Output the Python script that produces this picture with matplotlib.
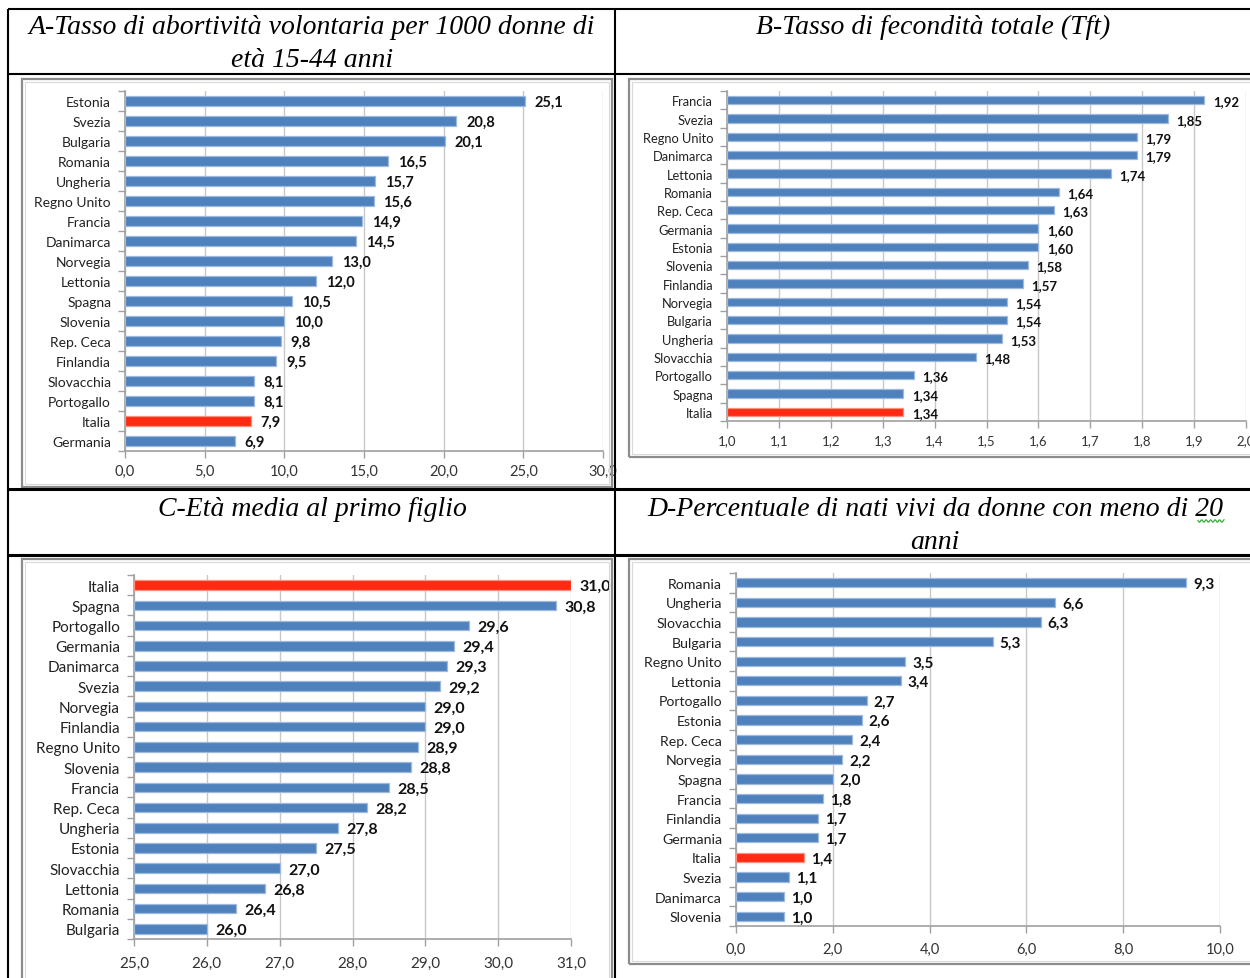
import matplotlib
matplotlib.use("Agg")
import matplotlib.pyplot as plt
from matplotlib.lines import Line2D
from matplotlib.patches import Rectangle
import numpy as np

# ---------------- data ----------------
a_countries = ["Estonia", "Svezia", "Bulgaria", "Romania", "Ungheria", "Regno Unito", "Francia",
               "Danimarca", "Norvegia", "Lettonia", "Spagna", "Slovenia", "Rep. Ceca", "Finlandia",
               "Slovacchia", "Portogallo", "Italia", "Germania"]
a_values = [25.1, 20.8, 20.1, 16.5, 15.7, 15.6, 14.9, 14.5, 13.0, 12.0, 10.5, 10.0, 9.8, 9.5,
            8.1, 8.1, 7.9, 6.9]

b_countries = ["Francia", "Svezia", "Regno Unito", "Danimarca", "Lettonia", "Romania", "Rep. Ceca",
               "Germania", "Estonia", "Slovenia", "Finlandia", "Norvegia", "Bulgaria", "Ungheria",
               "Slovacchia", "Portogallo", "Spagna", "Italia"]
b_values = [1.92, 1.85, 1.79, 1.79, 1.74, 1.64, 1.63, 1.60, 1.60, 1.58, 1.57, 1.54, 1.54, 1.53,
            1.48, 1.36, 1.34, 1.34]

c_countries = ["Italia", "Spagna", "Portogallo", "Germania", "Danimarca", "Svezia", "Norvegia",
               "Finlandia", "Regno Unito", "Slovenia", "Francia", "Rep. Ceca", "Ungheria", "Estonia",
               "Slovacchia", "Lettonia", "Romania", "Bulgaria"]
c_values = [31.0, 30.8, 29.6, 29.4, 29.3, 29.2, 29.0, 29.0, 28.9, 28.8, 28.5, 28.2, 27.8, 27.5,
            27.0, 26.8, 26.4, 26.0]

d_countries = ["Romania", "Ungheria", "Slovacchia", "Bulgaria", "Regno Unito", "Lettonia",
               "Portogallo", "Estonia", "Rep. Ceca", "Norvegia", "Spagna", "Francia", "Finlandia",
               "Germania", "Italia", "Svezia", "Danimarca", "Slovenia"]
d_values = [9.3, 6.6, 6.3, 5.3, 3.5, 3.4, 2.7, 2.6, 2.4, 2.2, 2.0, 1.8, 1.7, 1.7, 1.4, 1.1, 1.0, 1.0]

titles = ["A-Tasso di abortività volontaria per 1000 donne di\netà 15-44 anni",
          "B-Tasso di fecondità totale (Tft)",
          "C-Età media al primo figlio",
          "D-Percentuale di nati vivi da donne con meno di 20\nanni"]

a_ticks = [0, 5, 10, 15, 20, 25, 30]
b_ticks = [1.0, 1.1, 1.2, 1.3, 1.4, 1.5, 1.6, 1.7, 1.8, 1.9, 2.0]
c_ticks = [25, 26, 27, 28, 29, 30, 31]
d_ticks = [0, 2, 4, 6, 8, 10]

highlight = "Italia"

# ---------------- styling ----------------
W, H = 1250, 979
BLUE = "#4F81BD"
BLUE_EDGE = "#9DB9DD"
RED = "#FF2A12"
GRID = "#C8C8C8"
SPINE = "#A0A0A0"
LABEL_FONT = ["Lato", "DejaVu Sans"]
TITLE_FONT = ["Liberation Serif", "DejaVu Serif"]

fig = plt.figure(figsize=(W / 100, H / 100), dpi=100)
fig.patch.set_facecolor("white")


def px_axes(l, t, r, b):
    return fig.add_axes([l / W, 1 - b / H, (r - l) / W, (b - t) / H])


def fline(x0, y0, x1, y1, lw=1.5, color="black"):
    fig.add_artist(Line2D([x0 / W, x1 / W], [1 - y0 / H, 1 - y1 / H], lw=lw, color=color,
                          transform=fig.transFigure, solid_capstyle="butt"))


def frame(l, t, r, b):
    fig.add_artist(Rectangle((l / W, 1 - b / H), (r - l) / W, (b - t) / H, fill=False,
                             edgecolor="#8C8C8C", lw=1.6, transform=fig.transFigure))
    fig.add_artist(Rectangle(((l + 3) / W, 1 - (b - 3) / H), (r - l - 6) / W, (b - t - 6) / H,
                             fill=False, edgecolor="#DADADA", lw=0.8, transform=fig.transFigure))


def bar_panel(box, countries, values, xlim, ticks, dec_val, fs, xfs, vfs, off, xpad):
    ax = px_axes(*box)
    n = len(countries)
    y = np.arange(n)
    colors = [RED if c == highlight else BLUE for c in countries]
    edges = ["#FF9080" if c == highlight else BLUE_EDGE for c in countries]
    left = xlim[0]
    ax.barh(y, [v - left for v in values], left=left, height=0.47, color=colors,
            edgecolor=edges, linewidth=0.9, zorder=3)
    ax.set_ylim(n - 0.5, -0.5)
    ax.set_xlim(*xlim)
    ax.set_xticks(ticks)
    ax.set_xticklabels([f"{t:.1f}".replace(".", ",") for t in ticks],
                       fontsize=xfs, family=LABEL_FONT, color="#333333")
    ax.set_yticks(y)
    ax.set_yticklabels(countries, fontsize=fs, family=LABEL_FONT, color="#222222")
    ax.set_yticks(np.arange(n + 1) - 0.5, minor=True)
    ax.tick_params(axis="y", which="major", length=0, pad=10)
    ax.tick_params(axis="y", which="minor", length=5, color=SPINE, width=1)
    ax.tick_params(axis="x", which="major", length=5, color=SPINE, width=1, pad=xpad)
    ax.grid(axis="x", color=GRID, lw=1, zorder=0)
    ax.set_axisbelow(True)
    for s in ["top", "right"]:
        ax.spines[s].set_visible(False)
    for s in ["left", "bottom"]:
        ax.spines[s].set_color(SPINE)
        ax.spines[s].set_linewidth(1.2)
    for yi, v in zip(y, values):
        ax.annotate(f"{v:.{dec_val}f}".replace(".", ","), (v, yi), xytext=(off, -0.8),
                    textcoords="offset points", va="center", ha="left",
                    fontsize=vfs, fontweight="bold", family=LABEL_FONT, color="#111111",
                    zorder=5, annotation_clip=False)
    return ax


# ---------------- table frame ----------------
fline(8, 10, 1250, 10)
fline(8, 10, 8, 979)
fline(615, 10, 615, 979)
fline(8, 75, 1250, 75)
fline(8, 490, 1250, 490, lw=2.2)
fline(8, 556, 1250, 556, lw=2.2)

# inner chart frames
frame(22, 80, 612, 488)
frame(629, 80, 1256, 458)
frame(22, 560, 612, 990)
frame(629, 560, 1256, 965)

# ---------------- titles ----------------
tkw = dict(ha="center", va="center", fontsize=20, style="italic", family=TITLE_FONT,
           color="black", linespacing=1.42)
fig.text(312 / W, 1 - 44 / H, titles[0], **tkw)
fig.text(933 / W, 1 - 27 / H, titles[1], **tkw)
fig.text(312 / W, 1 - 509 / H, titles[2], **tkw)
fig.text(935 / W, 1 - 526 / H, titles[3], **tkw)
# spell-check wavy underline under "20"
xs = np.linspace(1198, 1224, 40)
fig.add_artist(Line2D(xs / W, 1 - (522 + 1.2 * np.sin(xs * 1.4)) / H, lw=0.9, color="#3BAA3B",
                      transform=fig.transFigure))

# ---------------- panels ----------------
bar_panel((125, 92, 603, 452), a_countries, a_values, (0, 30), a_ticks, 1, 10, 10.5, 10.5, 7, 4.5)
bar_panel((727, 92, 1246, 422), b_countries, b_values, (1.0, 2.0), b_ticks, 2, 9.3, 9.5, 9.5, 6, 4.5)
bar_panel((134, 576, 571, 940), c_countries, c_values, (25, 31), c_ticks, 1, 11, 11, 11.5, 6, 7)
bar_panel((736, 574, 1220, 927), d_countries, d_values, (0, 10), d_ticks, 1, 10.2, 10.5, 11, 5, 6.5)

fig.savefig("out.png", dpi=100, facecolor="white")
